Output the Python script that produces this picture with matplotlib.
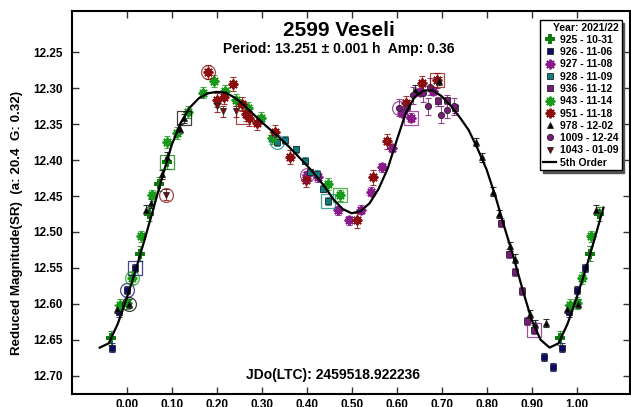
import numpy as np
import matplotlib
matplotlib.use("Agg")
import matplotlib.pyplot as plt
from matplotlib.lines import Line2D

plt.rcParams["font.family"] = ["Liberation Sans", "DejaVu Sans"]
plt.rcParams["font.weight"] = "bold"

# ================================
# DATA (phase, reduced magnitude)
# ================================
session_labels = ["925 - 10-31", "926 - 11-06", "927 - 11-08", "928 - 11-09", "936 - 11-12",
                  "943 - 11-14", "951 - 11-18", "978 - 12-02", "1009 - 12-24", "1043 - 01-09"]

ph_925 = [0.964, 0.030, 0.049, 0.071, 0.089]
mag_925 = [12.648, 12.530, 12.475, 12.433, 12.403]

ph_926 = [0.927, 0.947, 0.967, 0.983, 0.001, 0.019]
mag_926 = [12.674, 12.688, 12.661, 12.612, 12.581, 12.550]

ph_927 = [0.400, 0.426, 0.470, 0.495, 0.520, 0.544, 0.567, 0.589, 0.611, 0.631, 0.653, 0.681]
mag_927 = [12.421, 12.424, 12.470, 12.484, 12.469, 12.444, 12.410, 12.383, 12.334, 12.341, 12.305, 12.304]

ph_928 = [0.335, 0.352, 0.376, 0.396, 0.407, 0.422, 0.437, 0.448]
mag_928 = [12.375, 12.372, 12.385, 12.401, 12.417, 12.419, 12.440, 12.457]

ph_936 = [0.692, 0.712, 0.730, 0.833, 0.850, 0.863, 0.878, 0.890, 0.905]
mag_936 = [12.318, 12.316, 12.328, 12.487, 12.530, 12.556, 12.582, 12.624, 12.636]

ph_943 = [0.986, 0.000, 0.012, 0.032, 0.056, 0.089, 0.112, 0.137, 0.170, 0.194, 0.218,
          0.244, 0.270, 0.298, 0.322, 0.448, 0.474]
mag_943 = [12.602, 12.599, 12.564, 12.506, 12.449, 12.375, 12.362, 12.333, 12.306, 12.290, 12.304,
           12.316, 12.327, 12.341, 12.369, 12.433, 12.449]

ph_951 = [0.181, 0.200, 0.216, 0.236, 0.256, 0.265, 0.272, 0.290, 0.330, 0.363, 0.398,
          0.512, 0.547, 0.579, 0.621, 0.656, 0.689]
mag_951 = [12.277, 12.316, 12.312, 12.294, 12.322, 12.336, 12.342, 12.348, 12.361, 12.396, 12.427,
           12.484, 12.424, 12.374, 12.321, 12.293, 12.289]

ph_978 = [0.978, 0.004, 0.043, 0.055, 0.078, 0.090, 0.118, 0.127, 0.641, 0.695, 0.776,
          0.789, 0.815, 0.828, 0.852, 0.864, 0.896, 0.907, 0.933]
mag_978 = [12.607, 12.600, 12.469, 12.460, 12.420, 12.395, 12.356, 12.342, 12.302, 12.290, 12.375,
           12.396, 12.444, 12.475, 12.520, 12.537, 12.614, 12.628, 12.627]

ph_1009 = [0.606, 0.624, 0.636, 0.659, 0.669, 0.674, 0.698, 0.712, 0.727]
mag_1009 = [12.327, 12.328, 12.310, 12.307, 12.325, 12.298, 12.337, 12.330, 12.325]

ph_1043 = [0.087, 0.200, 0.213, 0.242]
mag_1043 = [12.448, 12.325, 12.332, 12.332]

# error bar half-size per session
err_session = [0.010, 0.006, 0.006, 0.005, 0.006, 0.008, 0.010, 0.006, 0.012, 0.008]

# highlighted (circled / boxed) observations: session index, phase, mag, shape
hl_session = [1, 1, 5, 7, 0, 7, 9, 6, 6, 3, 2, 3, 5, 8, 2, 6, 4]
hl_phase = [0.001, 0.019, 0.012, 0.004, 0.089, 0.127, 0.087, 0.181, 0.259, 0.335, 0.400,
            0.448, 0.474, 0.606, 0.631, 0.689, 0.905]
hl_mag = [12.581, 12.550, 12.564, 12.600, 12.403, 12.342, 12.448, 12.277, 12.340, 12.375, 12.421,
          12.457, 12.449, 12.327, 12.341, 12.289, 12.636]
hl_shape = ["o", "s", "o", "o", "s", "s", "o", "o", "s", "o", "o", "s", "s", "o", "s", "s", "s"]

# 5th order fit, read every 0.02 in phase
fit_phase = np.arange(0.0, 1.0, 0.02)
fit_mag = [12.592, 12.553, 12.510, 12.466, 12.421, 12.379, 12.348, 12.327, 12.314, 12.307,
           12.305, 12.306, 12.313, 12.323, 12.335, 12.347, 12.358, 12.369, 12.381, 12.394,
           12.407, 12.421, 12.437, 12.455, 12.468, 12.474, 12.471, 12.460, 12.440, 12.412,
           12.373, 12.335, 12.312, 12.303, 12.303, 12.311, 12.324, 12.340, 12.358, 12.384,
           12.413, 12.451, 12.494, 12.535, 12.580, 12.622, 12.650, 12.661, 12.655, 12.628]

# ================================
# STYLES
# ================================
all_ph = [ph_925, ph_926, ph_927, ph_928, ph_936, ph_943, ph_951, ph_978, ph_1009, ph_1043]
all_mag = [mag_925, mag_926, mag_927, mag_928, mag_936, mag_943, mag_951, mag_978, mag_1009, mag_1043]

colors = ["#0a7a0a", "#0a0a6e", "#8a1a8a", "#0f8080", "#7a1a7a",
          "#1a9a1a", "#8b0d0d", "#000000", "#7a1a7a", "#7a0a0a"]
ast = (8, 2, 0)
markers = ["P", "s", ast, "s", "s", ast, ast, "^", "o", "v"]
sizes = [6, 5, 7, 5, 5, 7, 7, 5, 4.5, 5]


def wrap(ph, mg, lo=-0.05, hi=1.05):
    ph = np.asarray(ph, dtype=float)
    mg = np.asarray(mg, dtype=float)
    lo_m = ph - 1 >= lo
    hi_m = ph + 1 <= hi
    return (np.concatenate([ph, ph[lo_m] - 1, ph[hi_m] + 1]),
            np.concatenate([mg, mg[lo_m], mg[hi_m]]))


fig = plt.figure(figsize=(6.31, 4.07), dpi=100)
ax = fig.add_axes([0.1146, 0.0312, 0.8846, 0.9425])

for i in range(len(all_ph)):
    x, y = wrap(all_ph[i], all_mag[i])
    ax.errorbar(x, y, yerr=err_session[i], fmt="none", ecolor=colors[i],
                elinewidth=0.8, capsize=2, capthick=0.8, alpha=0.8, zorder=2)
    m = markers[i]
    if m == ast or m == "P":
        ax.plot(x, y, linestyle="none", marker=m, markersize=sizes[i],
                color=colors[i], markeredgewidth=1.4, zorder=3)
    else:
        ax.plot(x, y, linestyle="none", marker=m, markersize=sizes[i],
                markerfacecolor=colors[i], markeredgecolor="#222222",
                markeredgewidth=0.6, zorder=3)

for s, p, mg, sh in zip(hl_session, hl_phase, hl_mag, hl_shape):
    ax.plot(p, mg, linestyle="none", marker=sh, markersize=10, markerfacecolor="none",
            markeredgecolor=colors[s], markeredgewidth=0.9, alpha=0.75, zorder=3)

# fit curve wrapped over the plotted phase range
fx = np.concatenate([fit_phase[fit_phase >= 0.94] - 1, fit_phase, fit_phase[fit_phase <= 0.06] + 1])
fy = np.concatenate([np.asarray(fit_mag)[fit_phase >= 0.94], fit_mag,
                     np.asarray(fit_mag)[fit_phase <= 0.06]])
ax.plot(fx, fy, color="black", linewidth=1.6, zorder=4)

# ================================
# AXES
# ================================
ax.set_xlim(-0.121, 1.120)
ax.set_ylim(12.726, 12.192)
ax.set_xticks(np.arange(0, 1.01, 0.1))
ax.set_xticklabels([f"{v:.2f}" for v in np.arange(0, 1.01, 0.1)])
ax.set_yticks(np.arange(12.25, 12.701, 0.05))
ax.set_yticklabels([f"{v:.2f}" for v in np.arange(12.25, 12.701, 0.05)])
ax.tick_params(direction="in", length=5, width=1, top=True, right=True,
               labelsize=8.5, colors="#333333", labelcolor="black")
ax.tick_params(axis="y", pad=7)
ax.tick_params(axis="x", pad=3.5)
for lab in ax.get_xticklabels() + ax.get_yticklabels():
    lab.set_fontweight("bold")
for sp in ax.spines.values():
    sp.set_linewidth(1.5)

fig.text(0.027, 0.452, "Reduced Magnitude(SR)  (a: 20.4  G: 0.32)", rotation=90,
         ha="center", va="center", fontsize=9.6, fontweight="bold")
fig.text(339 / 631, 1 - 30 / 407, "2599 Veseli", ha="center", va="center",
         fontsize=15, fontweight="bold")
fig.text(339 / 631, 1 - 49 / 407, "Period: 13.251 \u00b1 0.001 h  Amp: 0.36", ha="center",
         va="center", fontsize=10, fontweight="bold")
fig.text(333 / 631, 1 - 375 / 407, "JDo(LTC): 2459518.922236", ha="center", va="center",
         fontsize=10, fontweight="bold")

handles = []
for i in range(len(session_labels)):
    if markers[i] == ast or markers[i] == "P":
        h = Line2D([], [], linestyle="none", marker=markers[i], markersize=sizes[i],
                   color=colors[i], markeredgewidth=1.4)
    else:
        h = Line2D([], [], linestyle="none", marker=markers[i], markersize=sizes[i],
                   markerfacecolor=colors[i], markeredgecolor="#222222", markeredgewidth=0.6)
    handles.append(h)
handles.append(Line2D([], [], color="black", linewidth=1.6))
labels = session_labels + ["5th Order"]

leg = ax.legend(handles, labels, title="Year: 2021/22", loc="upper right",
                bbox_to_anchor=(0.984, 0.976), fontsize=7.5, title_fontproperties={"weight": "bold", "size": 7.5},
                frameon=True, fancybox=False, edgecolor="black", framealpha=1,
                borderpad=0.25, labelspacing=0.22, handlelength=1.3, handletextpad=0.4,
                borderaxespad=0, shadow={"color": "#555555", "alpha": 1})
leg.get_frame().set_linewidth(1.0)
leg._legend_box.align = "right"
for t in leg.get_texts():
    t.set_fontweight("bold")

fig.savefig("out.png", dpi=100)
